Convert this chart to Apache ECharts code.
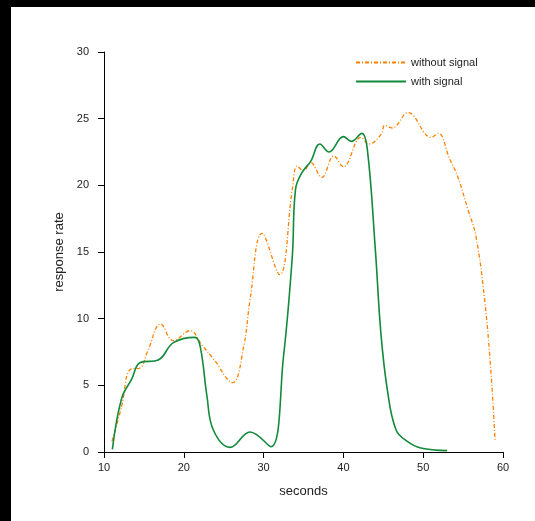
<!DOCTYPE html>
<html><head><meta charset="utf-8">
<script src="https://cdn.jsdelivr.net/npm/echarts@6/dist/echarts.min.js"></script>
<style>
html,body{margin:0;padding:0;background:#fff;}
#c{position:absolute;left:0;top:0;width:535px;height:521px;}
.blk{position:absolute;background:#000;z-index:5;}
</style></head>
<body>
<div id="c"></div>
<div class="blk" style="left:0;top:0;width:535px;height:7px"></div>
<div class="blk" style="left:0;top:0;width:11px;height:521px"></div>
<script>
const withoutX = [11, 12.2, 13.3, 14.5, 15.5, 17.1, 18.7, 20.8, 22.3, 23.7, 26.1, 27.5, 28.3, 29.8, 32, 33.6, 34.2, 35, 35.9, 37.3, 38.8, 40, 42.2, 43.2, 44.7, 45.2, 46.1, 48.1, 51, 51.9, 53.3, 54.3, 55.6, 56.6, 57.7, 58.5, 59];
const withoutY = [0.8, 3.4, 6.2, 6.3, 7.6, 9.6, 8.35, 9.1, 8.0, 7.0, 5.2, 7.9, 11.4, 16.4, 13.3, 19.7, 21.45, 21.1, 21.7, 20.6, 22.2, 21.4, 23.6, 23.1, 23.8, 24.5, 24.3, 25.45, 23.6, 23.9, 22.0, 20.7, 18.2, 16.2, 11.4, 5.9, 0.9];
const withX = [11.05, 12.2, 13.5, 14.5, 16.8, 18.7, 21.4, 22.06, 22.9, 23.7, 25.8, 28.3, 30.9, 32.5, 33.6, 34, 34.8, 35.9, 37.05, 38.2, 40, 41, 42.3, 43, 44, 44.7, 45.5, 46.6, 48, 49.7, 53];
const withY = [0.2, 4.0, 5.5, 6.7, 6.9, 8.2, 8.6, 7.9, 4.2, 1.65, 0.35, 1.5, 0.4, 7.2, 14.7, 19.7, 20.95, 21.8, 23.1, 22.5, 23.65, 23.3, 23.9, 22.7, 15.2, 8.9, 4.7, 1.65, 0.8, 0.3, 0.1];
const seriesNames = ['without signal', 'with signal'];

const font = 'Liberation Sans, Arial, sans-serif';
const chart = echarts.init(document.getElementById('c'));
const axisCommon = {
  axisLine:{show:true,lineStyle:{color:'#000',width:1}},
  axisTick:{show:true,length:6,lineStyle:{color:'#000'}},
  splitLine:{show:false},
  nameTextStyle:{color:'#222',fontSize:13,fontFamily:font}
};
chart.setOption({
  animation:false,
  backgroundColor:'#fff',
  grid:{left:104,right:32,top:52,bottom:69,containLabel:false},
  legend:{
    orient:'vertical', left:350, top:52, itemWidth:50, itemHeight:10, itemGap:8,
    itemStyle:{opacity:0},
    textStyle:{color:'#222',fontSize:11,fontFamily:font},
    data:seriesNames
  },
  xAxis:Object.assign({type:'value',min:10,max:60,interval:10,name:'seconds',nameLocation:'middle',nameGap:33,
    axisLabel:{color:'#222',fontSize:11,fontFamily:font,margin:10}}, axisCommon),
  yAxis:Object.assign({type:'value',min:0,max:30,interval:5,name:'response rate',nameLocation:'middle',nameGap:38,
    axisLabel:{color:'#222',fontSize:11,fontFamily:font,margin:15}}, axisCommon),
  series:[
    {name:seriesNames[0],type:'line',smooth:0.4,symbol:'none',
     color:'#ff8000',
     lineStyle:{color:'#ff8000',width:1.3,type:[4,2,1,2]},
     data:withoutX.map((x,i)=>[x,withoutY[i]])},
    {name:seriesNames[1],type:'line',smooth:0.4,symbol:'none',
     color:'#118a3b',
     lineStyle:{color:'#118a3b',width:1.6},
     data:withX.map((x,i)=>[x,withY[i]])}
  ]
});
</script>
</body></html>
